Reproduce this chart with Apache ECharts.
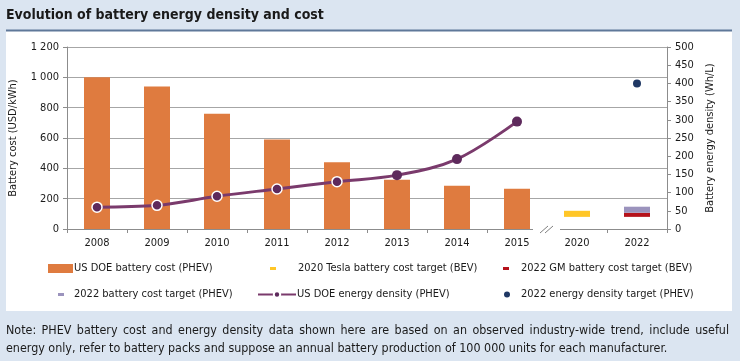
<!DOCTYPE html>
<html><head><meta charset="utf-8">
<script src="https://cdn.jsdelivr.net/npm/echarts@6/dist/echarts.min.js"></script>
<style>html,body{margin:0;padding:0;background:#dbe5f1}#c{width:740px;height:361px}</style>
</head><body><div id="c"></div>
<script>
const years = ['2008','2009','2010','2011','2012','2013','2014','2015','2020','2022'];
const doeCost = [1000,940,760,590,440,325,285,265,null,null];
const doeDensity = [60,65,90,110,130,148,192,295,null,null];
const teslaTargetLow  = [null,null,null,null,null,null,null,null,80,null];
const teslaTargetHigh = [null,null,null,null,null,null,null,null,120,null];
const gmTargetLow  = [null,null,null,null,null,null,null,null,null,80];
const gmTargetHigh = [null,null,null,null,null,null,null,null,null,107];
const phevTargetLow  = [null,null,null,null,null,null,null,null,null,107];
const phevTargetHigh = [null,null,null,null,null,null,null,null,null,147];
const densityTarget = [null,null,null,null,null,null,null,null,null,400];
const costTicks = [0,200,400,600,800,1000,1200];
const densityTicks = [0,50,100,150,200,250,300,350,400,450,500];
const titleText = 'Evolution of battery energy density and cost';
const noteLine1 = 'Note: PHEV battery cost and energy density data shown here are based on an observed industry-wide trend, include useful';
const noteLine2 = 'energy only, refer to battery packs and suppose an annual battery production of 100 000 units for each manufacturer.';
const names = {
  cost: 'US DOE battery cost (PHEV)',
  tesla: '2020 Tesla battery cost target (BEV)',
  gm: '2022 GM battery cost target (BEV)',
  phev: '2022 battery cost target (PHEV)',
  dens: 'US DOE energy density (PHEV)',
  dtarget: '2022 energy density target (PHEV)'
};

const F = "'Liberation Sans Narrow','DejaVu Sans Condensed','Open Sans',sans-serif";
const TXT = '#1a1a1a';
const fmt = v => String(v).replace(/\B(?=(\d{3})+(?!\d))/g, ' ');
const diff = (hi, lo) => hi.map((h, i) => (h == null || lo[i] == null) ? '-' : h - lo[i]);
const nz = a => a.map(v => v == null ? '-' : v);
const base = years.map((_, i) => teslaTargetLow[i] != null ? teslaTargetLow[i] : (gmTargetLow[i] != null ? gmTargetLow[i] : '-'));

const chart = echarts.init(document.getElementById('c'));

function legend(name, icon, left, top, w, h, pad) {
  return {
    data: [{name: name, icon: icon}], left: left, top: top, itemWidth: w, itemHeight: h,
    textStyle: {fontFamily: F, fontSize: 11, color: TXT, padding: [0,0,0,pad||0]},
    selectedMode: false, padding: 0
  };
}

const option = {
  backgroundColor: '#dbe5f1',
  animation: false,
  textStyle: {fontFamily: F},
  grid: {left: 65, right: 73, top: 47, bottom: 132},
  legend: [
    legend(names.cost, 'rect', 48, 263, 25, 9, -4),
    legend(names.tesla, 'rect', 270, 263, 6, 3, 17),
    legend(names.gm, 'rect', 503, 263, 6, 3, 7),
    legend(names.phev, 'rect', 58, 289, 6, 3, 5),
    legend(names.dens, undefined, 257, 289, 38, 8, -4),
    legend(names.dtarget, 'circle', 504, 289, 6, 6, 6)
  ],
  xAxis: {
    type: 'category', data: years,
    axisLine: {lineStyle: {color: '#8c8c8c', width: 1}},
    axisTick: {show: true, length: 4, lineStyle: {color: '#8c8c8c'}},
    axisLabel: {fontFamily: F, fontSize: 11, color: TXT, margin: 9}
  },
  yAxis: [{
    type: 'value', min: 0, max: 1200, interval: 200,
    name: 'Battery cost (USD/kWh)', nameLocation: 'middle', nameGap: 48, nameRotate: 90,
    nameTextStyle: {fontFamily: F, fontSize: 11, color: TXT},
    axisLine: {show: true, lineStyle: {color: '#8c8c8c'}},
    axisTick: {show: true, length: 4, lineStyle: {color: '#8c8c8c'}},
    splitLine: {show: true, lineStyle: {color: '#a6a6a6', width: 1}},
    axisLabel: {fontFamily: F, fontSize: 11, color: TXT, margin: 8,
      formatter: v => costTicks.indexOf(v) >= 0 ? fmt(v) : ''}
  }, {
    type: 'value', min: 0, max: 500, interval: 50,
    name: 'Battery energy density (Wh/L)', nameLocation: 'middle', nameGap: 38, nameRotate: 90,
    nameTextStyle: {fontFamily: F, fontSize: 11, color: TXT},
    axisLine: {show: true, lineStyle: {color: '#8c8c8c'}},
    axisTick: {show: true, length: 4, lineStyle: {color: '#8c8c8c'}},
    splitLine: {show: false},
    axisLabel: {fontFamily: F, fontSize: 11, color: TXT, margin: 8,
      formatter: v => densityTicks.indexOf(v) >= 0 ? String(v) : ''}
  }],
  series: [
    {name: names.cost, type: 'bar', data: nz(doeCost), barWidth: 26, barGap: '-100%',
     itemStyle: {color: '#df7b3f'}},
    {name: '_base', type: 'bar', stack: 't', data: base, barWidth: 26, barGap: '-100%',
     itemStyle: {color: 'rgba(0,0,0,0)'}, silent: true},
    {name: names.tesla, type: 'bar', stack: 't', data: diff(teslaTargetHigh, teslaTargetLow), barWidth: 26, barGap: '-100%',
     itemStyle: {color: '#ffc627'}},
    {name: names.gm, type: 'bar', stack: 't', data: diff(gmTargetHigh, gmTargetLow), barWidth: 26, barGap: '-100%',
     itemStyle: {color: '#b5121b'}},
    {name: names.phev, type: 'bar', stack: 't', data: diff(phevTargetHigh, phevTargetLow), barWidth: 26, barGap: '-100%',
     itemStyle: {color: '#9b93bd'}},
    {name: names.dens, type: 'line', yAxisIndex: 1, smooth: 0.35,
     data: doeDensity.map((v, i) => v == null ? '-' : {value: v,
       itemStyle: i < 5 ? {borderColor: '#ffffff', borderWidth: 1.5} : {borderWidth: 0}}),
     symbol: 'circle', symbolSize: 10, showAllSymbol: true,
     lineStyle: {color: '#7a3a6c', width: 3},
     itemStyle: {color: '#5e2a5c', borderColor: '#ffffff', borderWidth: 1.5}},
    {name: names.dtarget, type: 'scatter', yAxisIndex: 1, data: nz(densityTarget), symbolSize: 8,
     itemStyle: {color: '#1f3864', opacity: 1}}
  ]
};
chart.setOption(option);

function buildGraphics() {
  const els = [];
  els.push({type: 'rect', z: -10, silent: true, shape: {x: 6, y: 31, width: 726, height: 280}, style: {fill: '#ffffff'}});
  els.push({type: 'rect', z: -9, silent: true, shape: {x: 6, y: 29.5, width: 726, height: 2}, style: {fill: '#5f7899'}});
  els.push({type: 'text', x: 6, y: 15.5, style: {text: titleText, font: 'bold 14px ' + F, fill: TXT, verticalAlign: 'middle'}});
  // axis break between 2015 and 2020
  const p7 = chart.convertToPixel({xAxisIndex: 0}, years[7]);
  const p8 = chart.convertToPixel({xAxisIndex: 0}, years[8]);
  const y0 = chart.convertToPixel({yAxisIndex: 0}, 0);
  const bx = (p7 + p8) / 2;
  els.push({type: 'rect', z: 50, shape: {x: bx - 14, y: y0 - 3, width: 27, height: 7}, style: {fill: '#ffffff'}});
  [-3, 2].forEach(d => els.push({type: 'line', z: 51, shape: {x1: bx + d - 4, y1: y0 + 4, x2: bx + d + 4, y2: y0 - 3},
    style: {stroke: '#7f7f7f', lineWidth: 1}}));
  // justified note
  const ctx = document.createElement('canvas').getContext('2d');
  const nf = '12.4px ' + F;
  ctx.font = nf;
  const left = 6, right = 729;
  const words = noteLine1.split(' ');
  const tot = words.reduce((s, w) => s + ctx.measureText(w).width, 0);
  const gap = (right - left - tot) / (words.length - 1);
  let x = left;
  words.forEach(w => {
    els.push({type: 'text', x: x, y: 331, style: {text: w, font: nf, fill: TXT, verticalAlign: 'middle'}});
    x += ctx.measureText(w).width + gap;
  });
  els.push({type: 'text', x: left, y: 349, style: {text: noteLine2, font: nf, fill: TXT, verticalAlign: 'middle'}});
  chart.setOption({graphic: els});
}
buildGraphics();
</script></body></html>
